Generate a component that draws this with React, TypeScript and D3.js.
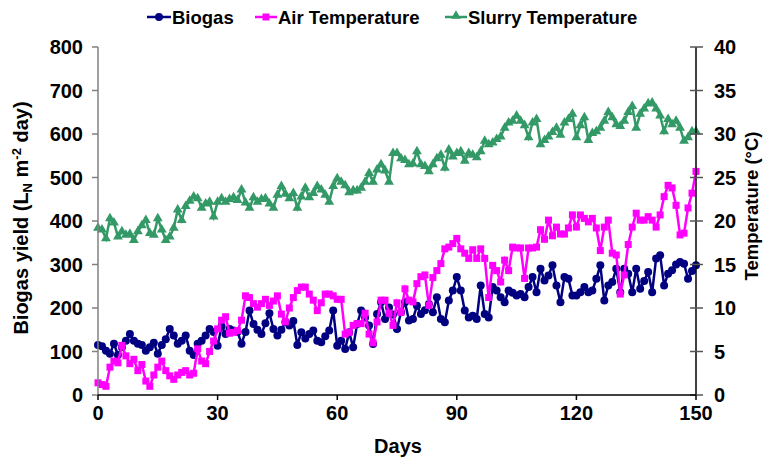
import React from 'react';
import * as d3 from 'd3';

// daily readings, day 0..150
const biogas = [
  115, 112, 102, 95, 118, 92, 110, 125, 140, 125, 118, 115, 102, 110, 120, 95, 115, 128, 152, 137,
  118, 125, 137, 102, 92, 118, 125, 137, 152, 145, 113, 158, 140, 152, 148, 145, 118, 145, 194, 163,
  150, 140, 165, 188, 152, 137, 150, 168, 160, 170, 115, 144, 130, 140, 148, 125, 121, 135, 148, 194,
  113, 125, 106, 144, 110, 163, 194, 178, 160, 117, 186, 213, 175, 201, 185, 152, 190, 213, 171, 175,
  205, 186, 195, 209, 190, 225, 175, 167, 217, 240, 271, 240, 194, 178, 182, 175, 252, 186, 178, 248,
  240, 225, 213, 240, 235, 229, 232, 225, 248, 271, 236, 290, 263, 275, 298, 252, 213, 271, 267, 229,
  229, 236, 248, 236, 240, 267, 298, 217, 252, 260, 290, 236, 290, 279, 236, 290, 244, 262, 283, 236,
  314, 321, 252, 279, 287, 300, 306, 302, 267, 285, 298,
];

const airTemp = [
  1.4, 1.2, 1.0, 3.2, 3.9, 3.7, 5.7, 4.5, 3.6, 4.1, 2.8, 3.5, 1.6, 1.0, 2.3, 3.2, 3.9, 2.8, 2.2, 1.8,
  2.3, 2.6, 2.8, 2.3, 2.5, 5.3, 3.9, 3.6, 5.0, 6.2, 7.6, 8.6, 9.0, 7.1, 7.2, 7.4, 8.6, 11.4, 11.2, 10.5,
  10.1, 10.5, 11.0, 10.3, 10.8, 11.4, 9.3, 8.4, 10.0, 11.2, 12.0, 12.4, 12.4, 11.6, 10.9, 9.7, 10.6, 11.6, 11.6, 11.4,
  11.0, 11.0, 7.0, 7.2, 8.0, 8.2, 8.2, 9.4, 7.0, 6.0, 8.4, 10.9, 10.9, 9.4, 8.0, 10.6, 9.5, 12.2, 10.9, 10.7,
  12.8, 13.6, 13.8, 10.3, 13.5, 14.3, 15.1, 16.8, 17.0, 17.4, 18.0, 16.8, 16.3, 15.7, 16.7, 15.7, 16.8, 15.7, 11.2, 14.9,
  14.3, 13.0, 15.5, 14.3, 17.0, 16.9, 16.9, 13.4, 16.9, 16.9, 17.0, 19.0, 17.9, 20.1, 18.3, 19.3, 18.5, 18.5, 19.2, 20.7,
  19.3, 20.7, 20.3, 19.9, 20.3, 19.2, 16.6, 19.3, 20.1, 16.3, 16.1, 11.6, 13.8, 17.3, 19.3, 20.9, 20.1, 20.1, 20.5, 20.1,
  19.3, 20.7, 22.8, 24.1, 23.8, 21.8, 18.4, 18.6, 21.5, 23.2, 25.7,
];

const slurryTemp = [
  19.2, 19.0, 18.0, 20.3, 19.8, 18.2, 18.8, 18.4, 18.5, 17.8, 18.8, 19.5, 20.1, 18.6, 18.4, 20.3, 19.0, 17.8, 18.2, 19.2,
  21.3, 20.1, 21.7, 22.3, 22.8, 22.6, 21.5, 22.0, 22.2, 20.5, 22.2, 22.6, 22.2, 22.5, 22.7, 22.4, 23.6, 22.1, 21.5, 22.7,
  22.2, 22.5, 22.6, 22.0, 21.5, 23.0, 24.0, 23.1, 22.6, 23.2, 21.5, 22.8, 23.8, 22.7, 23.2, 24.0, 23.6, 23.0, 22.2, 24.0,
  24.9, 24.5, 24.1, 23.3, 23.5, 23.5, 23.8, 24.5, 25.5, 24.5, 25.9, 26.5, 25.8, 24.5, 27.8, 27.8, 27.2, 27.0, 26.5, 26.6,
  28.0, 26.5, 26.3, 25.7, 26.5, 27.2, 27.6, 26.1, 28.2, 27.4, 27.8, 28.0, 26.9, 27.8, 27.6, 27.3, 28.0, 29.2, 28.8, 29.0,
  29.4, 29.7, 30.7, 31.3, 31.5, 32.1, 31.5, 31.0, 29.6, 31.3, 31.7, 28.8, 29.3, 29.7, 30.2, 30.7, 29.9, 31.3, 31.7, 32.3,
  29.6, 31.0, 31.9, 29.3, 30.1, 30.3, 30.7, 31.5, 32.5, 31.9, 31.1, 30.9, 31.5, 32.5, 33.2, 30.7, 32.3, 32.9, 33.5, 33.6,
  32.9, 32.1, 30.3, 31.7, 31.1, 31.5, 30.7, 29.2, 29.6, 30.3, 30.3,
];

const days = d3.range(biogas.length);
const xTicks = [0, 30, 60, 90, 120, 150];
const yLeftTicks = [0, 100, 200, 300, 400, 500, 600, 700, 800];
const yRightTicks = [0, 5, 10, 15, 20, 25, 30, 35, 40];

const W = 771;
const H = 466;
const FONT = 'Arial, "Liberation Sans", sans-serif';
const NAVY = '#000080';
const MAGENTA = '#FF00FF';
const GREEN = '#339966';

const x = d3.scaleLinear().domain([0, 150]).range([98, 696]);
const yL = d3.scaleLinear().domain([0, 800]).range([395, 47]);
const yR = d3.scaleLinear().domain([0, 40]).range([395, 47]);

const tri = d3.symbol(d3.symbolTriangle, 42)() ?? '';

export default function App() {
  const lineL = d3.line<number>().x((_d, i) => x(days[i])).y((d) => yL(d));
  const lineR = d3.line<number>().x((_d, i) => x(days[i])).y((d) => yR(d));

  return (
    <svg
      width={W}
      height={H}
      viewBox={`0 0 ${W} ${H}`}
      style={{ position: 'absolute', left: 0, top: 0, background: '#fff' }}
      fontFamily={FONT}
      fontWeight="bold"
    >
      {/* series */}
      <path d={lineL(biogas) ?? ''} fill="none" stroke={NAVY} strokeWidth={2.5} />
      {biogas.map((v, i) => (
        <circle key={`b${i}`} cx={x(days[i])} cy={yL(v)} r={4} fill={NAVY} />
      ))}
      <path d={lineR(airTemp) ?? ''} fill="none" stroke={MAGENTA} strokeWidth={2.5} />
      {airTemp.map((v, i) => (
        <rect key={`a${i}`} x={x(days[i]) - 3.5} y={yR(v) - 3.5} width={7} height={7} fill={MAGENTA} />
      ))}
      <path d={lineR(slurryTemp) ?? ''} fill="none" stroke={GREEN} strokeWidth={2.5} />
      {slurryTemp.map((v, i) => (
        <path key={`s${i}`} d={tri} transform={`translate(${x(days[i])},${yR(v)})`} fill={GREEN} />
      ))}

      {/* left axis */}
      <line x1={x(0)} x2={x(0)} y1={yL(0)} y2={yL(800)} stroke="#808080" strokeWidth={1.5} />
      {yLeftTicks.map((t) => (
        <g key={`yl${t}`}>
          <line x1={x(0) - 6} x2={x(0)} y1={yL(t)} y2={yL(t)} stroke="#808080" strokeWidth={1.5} />
          <text x={83} y={yL(t)} dy="0.36em" textAnchor="end" fontSize={20}>
            {t}
          </text>
        </g>
      ))}

      {/* right axis */}
      <line x1={x(150)} x2={x(150)} y1={yR(0)} y2={yR(40)} stroke="#000" strokeWidth={1.5} />
      {yRightTicks.map((t) => (
        <g key={`yr${t}`}>
          <line x1={x(150) - 6} x2={x(150) + 7} y1={yR(t)} y2={yR(t)} stroke="#555" strokeWidth={1.5} />
          <text x={714} y={yR(t)} dy="0.36em" textAnchor="start" fontSize={20}>
            {t}
          </text>
        </g>
      ))}

      {/* bottom axis */}
      <line x1={x(0)} x2={x(150)} y1={yL(0)} y2={yL(0)} stroke="#000" strokeWidth={1.5} />
      {xTicks.map((t) => (
        <g key={`x${t}`}>
          <line x1={x(t)} x2={x(t)} y1={yL(0)} y2={yL(0) + 5} stroke="#000" strokeWidth={1.5} />
          <text x={x(t)} y={420} textAnchor="middle" fontSize={20}>
            {t}
          </text>
        </g>
      ))}

      {/* axis titles */}
      <text x={398} y={453} textAnchor="middle" fontSize={20}>
        Days
      </text>
      <text transform="translate(28,218) rotate(-90)" textAnchor="middle" fontSize={20}>
        Biogas yield (L<tspan fontSize={13} dy={4}>N</tspan>
        <tspan dy={-4}> m</tspan>
        <tspan fontSize={13} dy={-7}>-2</tspan>
        <tspan dy={7}> day)</tspan>
      </text>
      <text transform="translate(758,206) rotate(-90)" textAnchor="middle" fontSize={18.5}>
        Temperature (°C)
      </text>

      {/* legend */}
      <g fontSize={18.5}>
        <line x1={147} x2={171} y1={17} y2={17} stroke={NAVY} strokeWidth={2.5} />
        <circle cx={159} cy={17} r={4} fill={NAVY} />
        <text x={172} y={24}>Biogas</text>
        <line x1={255} x2={277} y1={17} y2={17} stroke={MAGENTA} strokeWidth={2.5} />
        <rect x={262.5} y={13.5} width={7} height={7} fill={MAGENTA} />
        <text x={278} y={24}>Air Temperature</text>
        <line x1={445} x2={467} y1={17} y2={17} stroke={GREEN} strokeWidth={2.5} />
        <path d={tri} transform="translate(456,16)" fill={GREEN} />
        <text x={468} y={24}>Slurry Temperature</text>
      </g>
    </svg>
  );
}
